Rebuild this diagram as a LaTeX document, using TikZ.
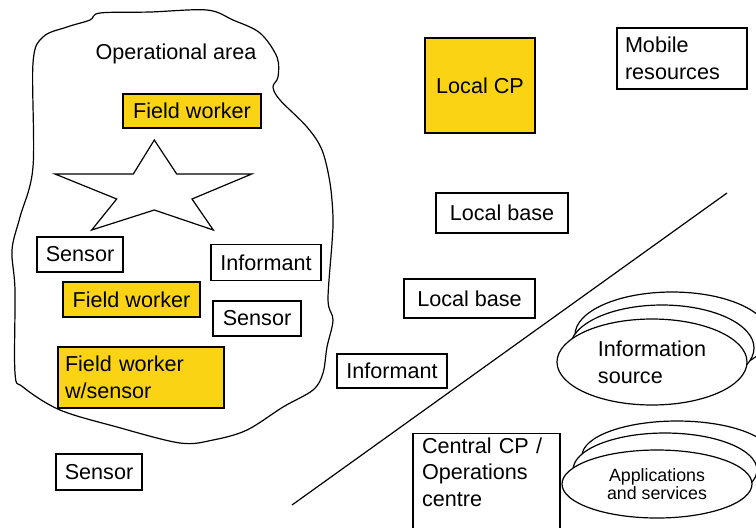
\documentclass[tikz,border=0pt]{standalone}
\usepackage{fontspec}
\setmainfont{Liberation Sans}
\usepackage{tikz}
\usetikzlibrary{shapes.geometric}
\definecolor{fieldyellow}{RGB}{250,212,20}

\begin{document}
\begin{tikzpicture}[x=0.5pt,y=-0.5pt,
    every node/.style={font=\fontsize{10.8}{13.3}\selectfont},
    box/.style={draw,line width=0.7pt,inner sep=2pt},
    yellowbox/.style={box,fill=fieldyellow},
    store/.style={draw,ellipse,fill=white,line width=0.6pt,inner sep=0pt}]
    \useasboundingbox (0,0) rectangle (756,527);
    \clip (0,0) rectangle (756,527);
    % operational area
    \draw[line width=0.6pt] plot[smooth cycle,tension=0.55] coordinates {
        (33,63) (43,37) (67,27) (90,20) (100,13) (150,12) (207,10) (233,20)
        (260,33) (277,57) (278,77) (273,87) (280,100) (307,127) (322,150)
        (330,183) (333,217) (332,243) (328,300) (333,320) (327,347) (323,373)
        (313,390) (283,407) (247,430) (213,440) (180,443) (117,427) (60,410)
        (23,387) (15,373) (15,290) (12,250) (20,217) (33,167)};
    \node (area) at (176,54) {Operational area};
    \draw[line width=0.6pt] (154.3,140) -- (176.7,174) -- (251.7,174) -- (192,199)
        -- (213.3,230) -- (154.3,210) -- (91.7,230) -- (116.7,199) -- (55,174)
        -- (133.3,174) -- cycle;
    \node[yellowbox,minimum width=69pt,minimum height=17pt] (fw1) at (192,111) {Field worker};
    \node[box,minimum width=43pt,minimum height=17.5pt] (sensor1) at (80,254.5) {Sensor};
    \node[box,minimum width=55pt,minimum height=18pt] (informant1) at (266,262.5) {Informant};
    \node[yellowbox,minimum width=68.5pt,minimum height=17.5pt] (fw2) at (131.5,299.5) {Field worker};
    \node[box,minimum width=44pt,minimum height=17.5pt] (sensor2) at (257,318.5) {Sensor};
    \node[yellowbox,minimum width=83pt,minimum height=30.5pt,text width=76pt,align=left] (fw3) at (141,377.5) {Field worker\\w/sensor};
    \node[box,minimum width=43pt,minimum height=18pt] (sensor3) at (99,472) {Sensor};
    % command side
    \node[yellowbox,minimum width=55pt,minimum height=47.5pt] (localcp) at (480,85.5) {Local CP};
    \node[box,minimum width=65pt,minimum height=30.5pt,text width=57pt,align=left] (mobile) at (682,58.5) {Mobile\\resources};
    \node[box,minimum width=66pt,minimum height=20pt] (base1) at (502,213) {Local base};
    \node[box,minimum width=65.5pt,minimum height=19.5pt] (base2) at (469.5,298.5) {Local base};
    \node[box,minimum width=55pt,minimum height=17pt] (informant2) at (392,371) {Informant};
    \coordinate (lineA) at (727,193);
    \coordinate (lineB) at (292,505);
    \draw[line width=0.6pt] (lineA) -- (lineB);
    \node[box,anchor=north,minimum width=73.5pt,text width=64.5pt,align=left,text depth=40pt] (central) at (486.5,433) {Central CP /\\Operations\\centre};
    % stores
    \node[store,minimum width=97pt,minimum height=43pt] (info3) at (672,335) {};
    \node[store,minimum width=92pt,minimum height=43pt] (info2) at (662,348) {};
    \node[store,minimum width=95pt,minimum height=43pt,align=left] (info1) at (652,362) {Information\\source};
    \node[store,minimum width=95pt,minimum height=35pt] (apps3) at (677,456) {};
    \node[store,minimum width=92pt,minimum height=37pt] (apps2) at (665,470) {};
    \node[store,minimum width=95pt,minimum height=34pt,align=center,font=\fontsize{8.9}{8.7}\selectfont] (apps1) at (657,484) {Applications\\and services};
\end{tikzpicture}
\end{document}
